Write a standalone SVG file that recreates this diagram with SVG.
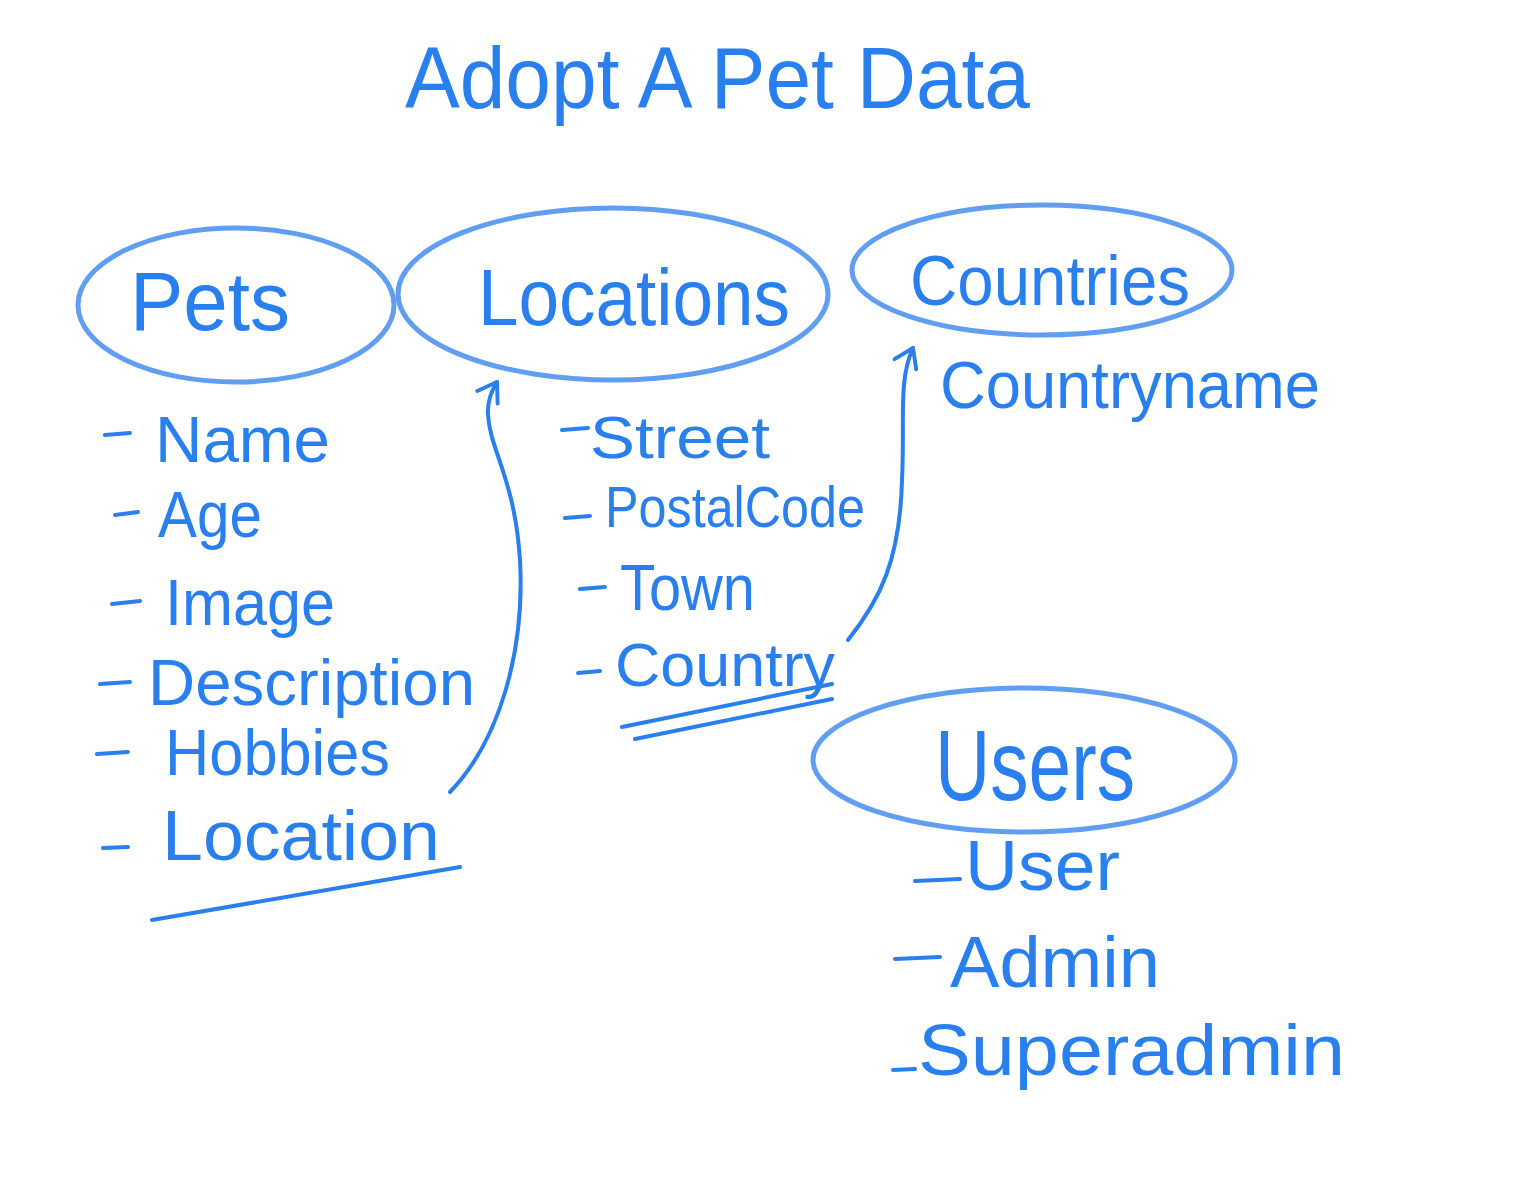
<svg xmlns="http://www.w3.org/2000/svg" width="1536" height="1190" viewBox="0 0 1536 1190">
<defs>
<style>
.bg{fill:#ffffff}
.ell{fill:none;stroke:#3a86ee;stroke-width:5;opacity:0.8}
.ln{fill:none;stroke:#2a7fef;stroke-width:4;stroke-linecap:round}
.t{fill:#2a7fef;font-family:"Liberation Sans","DejaVu Sans",sans-serif;font-weight:normal}
</style>
<marker id="ah" viewBox="0 0 20 20" refX="14" refY="10" markerWidth="30" markerHeight="30" markerUnits="userSpaceOnUse" orient="auto">
<path d="M2 2 L14 10 L2 18" fill="none" stroke="#2a7fef" stroke-width="2.6" stroke-linecap="round" stroke-linejoin="round"/>
</marker>
</defs>
<rect class="bg" x="0" y="0" width="1536" height="1190"/>
<g id="title">
<text class="t" x="405" y="108" font-size="88" textLength="625" lengthAdjust="spacingAndGlyphs">Adopt A Pet Data</text>
</g>
<g id="pets">
<ellipse class="ell" cx="236" cy="305" rx="158" ry="77"/>
<text class="t" x="130" y="330" font-size="84" textLength="160" lengthAdjust="spacingAndGlyphs">Pets</text>
<g class="attrs">
<line class="ln" x1="105" y1="435" x2="130" y2="433"/>
<text class="t" x="155" y="462" font-size="64" textLength="175" lengthAdjust="spacingAndGlyphs">Name</text>
<line class="ln" x1="115" y1="515" x2="138" y2="512"/>
<text class="t" x="158" y="537" font-size="64" textLength="104" lengthAdjust="spacingAndGlyphs">Age</text>
<line class="ln" x1="112" y1="604" x2="140" y2="601"/>
<text class="t" x="165" y="625" font-size="64" textLength="170" lengthAdjust="spacingAndGlyphs">Image</text>
<line class="ln" x1="100" y1="684" x2="130" y2="682"/>
<text class="t" x="148" y="705" font-size="64" textLength="327" lengthAdjust="spacingAndGlyphs">Description</text>
<line class="ln" x1="97" y1="754" x2="128" y2="752"/>
<text class="t" x="165" y="775" font-size="64" textLength="225" lengthAdjust="spacingAndGlyphs">Hobbies</text>
<line class="ln" x1="103" y1="848" x2="128" y2="847"/>
<text class="t" x="162" y="860" font-size="70" textLength="278" lengthAdjust="spacingAndGlyphs">Location</text>
<path class="ln" d="M152 920 L460 867" stroke-width="6"/>
</g>
</g>
<g id="locations">
<ellipse class="ell" cx="613" cy="294" rx="215" ry="86"/>
<text class="t" x="478" y="325" font-size="80" textLength="312" lengthAdjust="spacingAndGlyphs">Locations</text>
<g class="attrs">
<line class="ln" x1="562" y1="430" x2="588" y2="428"/>
<text class="t" x="590" y="458" font-size="60" textLength="180" lengthAdjust="spacingAndGlyphs">Street</text>
<line class="ln" x1="565" y1="518" x2="590" y2="516"/>
<text class="t" x="605" y="527" font-size="58" textLength="260" lengthAdjust="spacingAndGlyphs">PostalCode</text>
<line class="ln" x1="580" y1="589" x2="605" y2="587"/>
<text class="t" x="620" y="610" font-size="64" textLength="135" lengthAdjust="spacingAndGlyphs">Town</text>
<line class="ln" x1="578" y1="673" x2="600" y2="671"/>
<text class="t" x="615" y="686" font-size="62" textLength="220" lengthAdjust="spacingAndGlyphs">Country</text>
<path class="ln" d="M622 727 L832 684"/>
<path class="ln" d="M635 739 L832 699"/>
</g>
</g>
<g id="countries">
<ellipse class="ell" cx="1042" cy="270" rx="190" ry="65"/>
<text class="t" x="910" y="305" font-size="70" textLength="280" lengthAdjust="spacingAndGlyphs">Countries</text>
<text class="t" x="940" y="408" font-size="66" textLength="380" lengthAdjust="spacingAndGlyphs">Countryname</text>
</g>
<g id="users">
<ellipse class="ell" cx="1024" cy="760" rx="211" ry="72"/>
<text class="t" x="935" y="800" font-size="100" textLength="200" lengthAdjust="spacingAndGlyphs">Users</text>
<g class="attrs">
<line class="ln" x1="915" y1="881" x2="960" y2="879"/>
<text class="t" x="965" y="890" font-size="70" textLength="155" lengthAdjust="spacingAndGlyphs">User</text>
<line class="ln" x1="895" y1="959" x2="940" y2="957"/>
<text class="t" x="950" y="987" font-size="72" textLength="210" lengthAdjust="spacingAndGlyphs">Admin</text>
<line class="ln" x1="893" y1="1070" x2="915" y2="1069"/>
<text class="t" x="918" y="1075" font-size="72" textLength="427" lengthAdjust="spacingAndGlyphs">Superadmin</text>
</g>
</g>
<g id="connectors">
<path class="ln" d="M450 792 C 500 740, 525 650, 520 560 C 515 480, 490 450, 488 415 C 487 400, 492 390, 497 382" marker-end="url(#ah)"/>
<path class="ln" d="M848 640 C 880 600, 900 560, 902 480 C 905 420, 898 380, 913 348" marker-end="url(#ah)"/>
</g>
</svg>
